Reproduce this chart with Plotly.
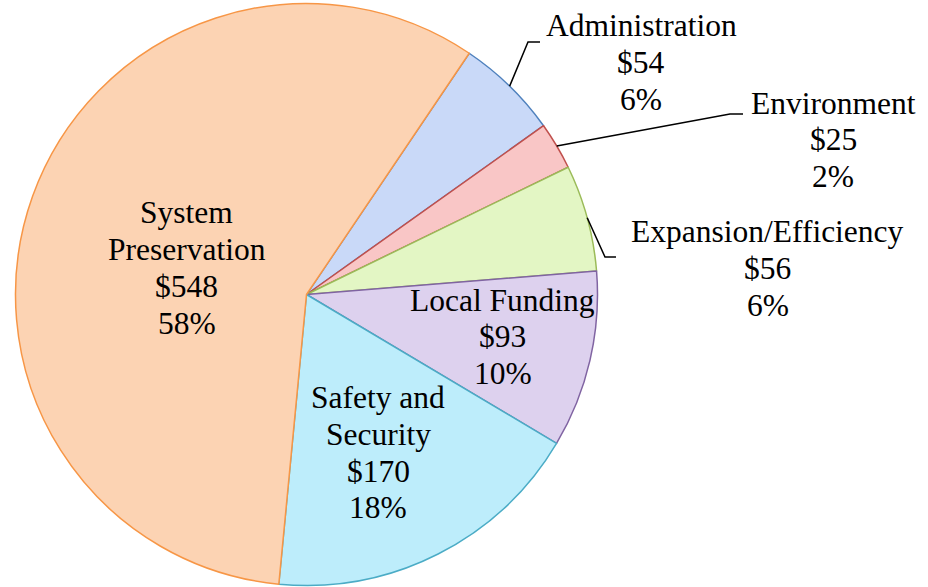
import math
import plotly.graph_objects as go

# ---- data ----
categories = ["Administration", "Environment", "Expansion/Efficiency",
              "Local Funding", "Safety and Security", "System Preservation"]
label_lines = [["Administration"], ["Environment"], ["Expansion/Efficiency"],
               ["Local Funding"], ["Safety and", "Security"], ["System", "Preservation"]]
values = [54, 25, 56, 93, 170, 548]
pct_labels = ["6%", "2%", "6%", "10%", "18%", "58%"]

# ---- style ----
fills = ["#c9d9f8", "#f9c6c6", "#e3f6c4", "#ddd1ee", "#bdedfb", "#fcd3b3"]
edges = ["#4f81bd", "#c0504d", "#9bbb59", "#8064a2", "#4bacc6", "#f79646"]
W, H = 928, 587
CX, CY, R = 306.5, 294.5, 291.0
ROT = 34.0
FONT = dict(family="Liberation Serif, Times New Roman, serif", size=31.5, color="black")
LINE_GAP = 36.8

def px(x, y):
    return x / W, 1 - y / H

# label anchor (x center, y of first line) in pixel layout space
label_pos = [(641, 25.5), (833, 103), (767.5, 232), (502.5, 300), (378, 397.5), (186.5, 213)]
# leader elbow and end (only for outside labels)
leaders = {0: [(528, 42), (540, 42)], 1: [(730, 114), (743, 114)], 2: [(605, 257), (616, 257)]}

fig = go.Figure()
x0, y0 = px(CX - R, CY + R)
x1, y1 = px(CX + R, CY - R)
fig.add_trace(go.Pie(
    labels=categories, values=values, sort=False, direction="clockwise",
    rotation=ROT, textinfo="none", hoverinfo="skip", showlegend=False,
    marker=dict(colors=fills, line=dict(color=edges, width=1.5)),
    domain=dict(x=[x0, x1], y=[y0, y1]),
))

total = sum(values)
annotations = []
shapes = []
start = ROT
for i, v in enumerate(values):
    span = v / total * 360
    mid = math.radians(start + span / 2)
    start += span
    lines = label_lines[i] + ["$" + str(v), pct_labels[i]]
    lx, ly = label_pos[i]
    for k, t in enumerate(lines):
        ax, ay = px(lx, ly + k * LINE_GAP)
        annotations.append(dict(x=ax, y=ay, xref="paper", yref="paper", text=t,
                                showarrow=False, xanchor="center", yanchor="middle",
                                font=FONT))
    if i in leaders:
        sx = CX + R * math.sin(mid)
        sy = CY - R * math.cos(mid)
        pts = [(sx, sy)] + leaders[i]
        path = "M " + " L ".join("%f,%f" % px(a, b) for a, b in pts)
        shapes.append(dict(type="path", path=path, xref="paper", yref="paper",
                           line=dict(color="black", width=1.5)))

fig.update_layout(
    width=W, height=H, margin=dict(l=0, r=0, t=0, b=0),
    paper_bgcolor="white", plot_bgcolor="white",
    annotations=annotations, shapes=shapes,
)
fig.write_html("out.html", config={"displayModeBar": False},
               post_script="document.body.style.margin='0';document.body.style.overflow='hidden';")
